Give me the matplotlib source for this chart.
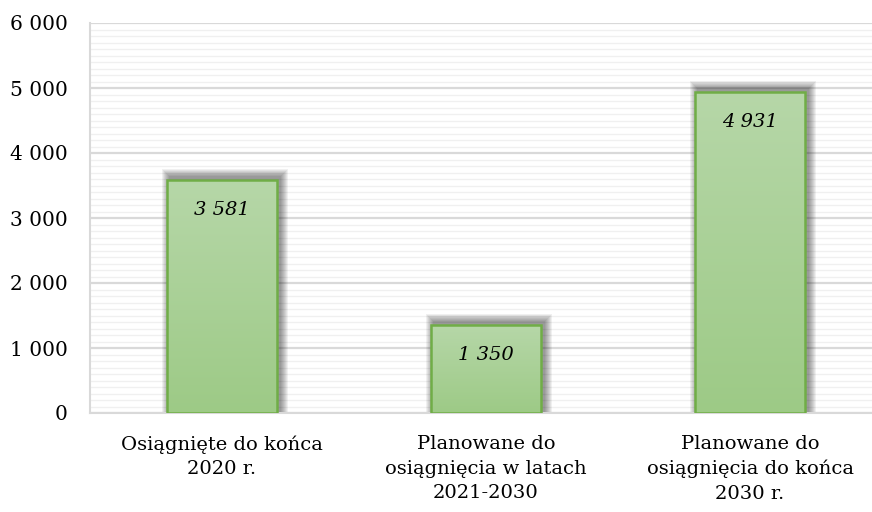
import matplotlib
matplotlib.use("Agg")
import matplotlib.pyplot as plt
import numpy as np
from matplotlib.patches import Rectangle
from matplotlib.ticker import MultipleLocator, FuncFormatter
from matplotlib.colors import LinearSegmentedColormap

categories = ["Osiągnięte do końca\n2020 r.",
              "Planowane do\nosiągnięcia w latach\n2021-2030",
              "Planowane do\nosiągnięcia do końca\n2030 r."]
values = [3581, 1350, 4931]

plt.rcParams['font.family'] = ['DejaVu Serif']

W, H = 872, 512
fig = plt.figure(figsize=(W / 100, H / 100), dpi=100)
left_px, right_px, top_px, bottom_px = 90, 872, 23, 413
ax = fig.add_axes([left_px / W, 1 - bottom_px / H, (right_px - left_px) / W, (bottom_px - top_px) / H])

step = 264.0
ax.set_xlim(-0.5, -0.5 + (right_px - left_px) / step)
ax.set_ylim(0, 6000)

ax.yaxis.set_major_locator(MultipleLocator(1000))
ax.yaxis.set_minor_locator(MultipleLocator(100))
ax.grid(which='major', axis='y', color='#d9d9d9', linewidth=1.6, zorder=0)
ax.grid(which='minor', axis='y', color='#f0f0f0', linewidth=1.0, zorder=0)
ax.set_axisbelow(True)
for s in ['top', 'right']:
    ax.spines[s].set_visible(False)
ax.spines['left'].set_color('#d9d9d9')
ax.spines['left'].set_linewidth(1.5)
ax.spines['bottom'].set_color('#d9d9d9')
ax.spines['bottom'].set_linewidth(1.5)
ax.tick_params(axis='both', which='both', length=0)
ax.tick_params(axis='y', pad=16, labelsize=14.5, colors='black')
ax.tick_params(axis='x', pad=16, labelsize=14)
ax.yaxis.set_major_formatter(FuncFormatter(lambda v, p: f"{int(v):,}".replace(",", " ")))

x = np.arange(len(values))
ax.set_xticks(x)
ax.set_xticklabels(categories, linespacing=1.45)

bw = 110 / step
px_x = 1.0 / step          # data units per pixel in x
px_y = 6000.0 / (bottom_px - top_px)  # data units per pixel in y

cmap = LinearSegmentedColormap.from_list('g', ['#9dca86', '#b6d7a8'])
grad = np.linspace(0, 1, 256).reshape(-1, 1)

for xi, v in zip(x, values):
    x0 = xi - bw / 2
    # soft shadow
    n = 8
    for i in range(n):
        pad = (n - i)
        r = Rectangle((x0 + 3 * px_x - pad * px_x, 0),
                      bw + 2 * pad * px_x,
                      v + (3 + pad) * px_y,
                      facecolor='black', edgecolor='none', alpha=0.06, zorder=2)
        ax.add_patch(r)
    bar = ax.bar(xi, v, width=bw, color='none', edgecolor='#70ad47', linewidth=1.8, zorder=4)[0]
    im = ax.imshow(grad, cmap=cmap, aspect='auto', origin='lower',
                   extent=[x0, x0 + bw, 0, v], zorder=3)
    clip = Rectangle((x0, 0), bw, v, transform=ax.transData, facecolor='none', edgecolor='none')
    ax.add_patch(clip)
    im.set_clip_path(clip)
    ax.text(xi, v - 30 * px_y, f"{v:,}".replace(",", " "), ha='center', va='center',
            fontsize=14, style='italic', zorder=5)

ax.set_xlim(-0.5, -0.5 + (right_px - left_px) / step)
ax.set_ylim(0, 6000)

fig.savefig("out.png", dpi=100)
